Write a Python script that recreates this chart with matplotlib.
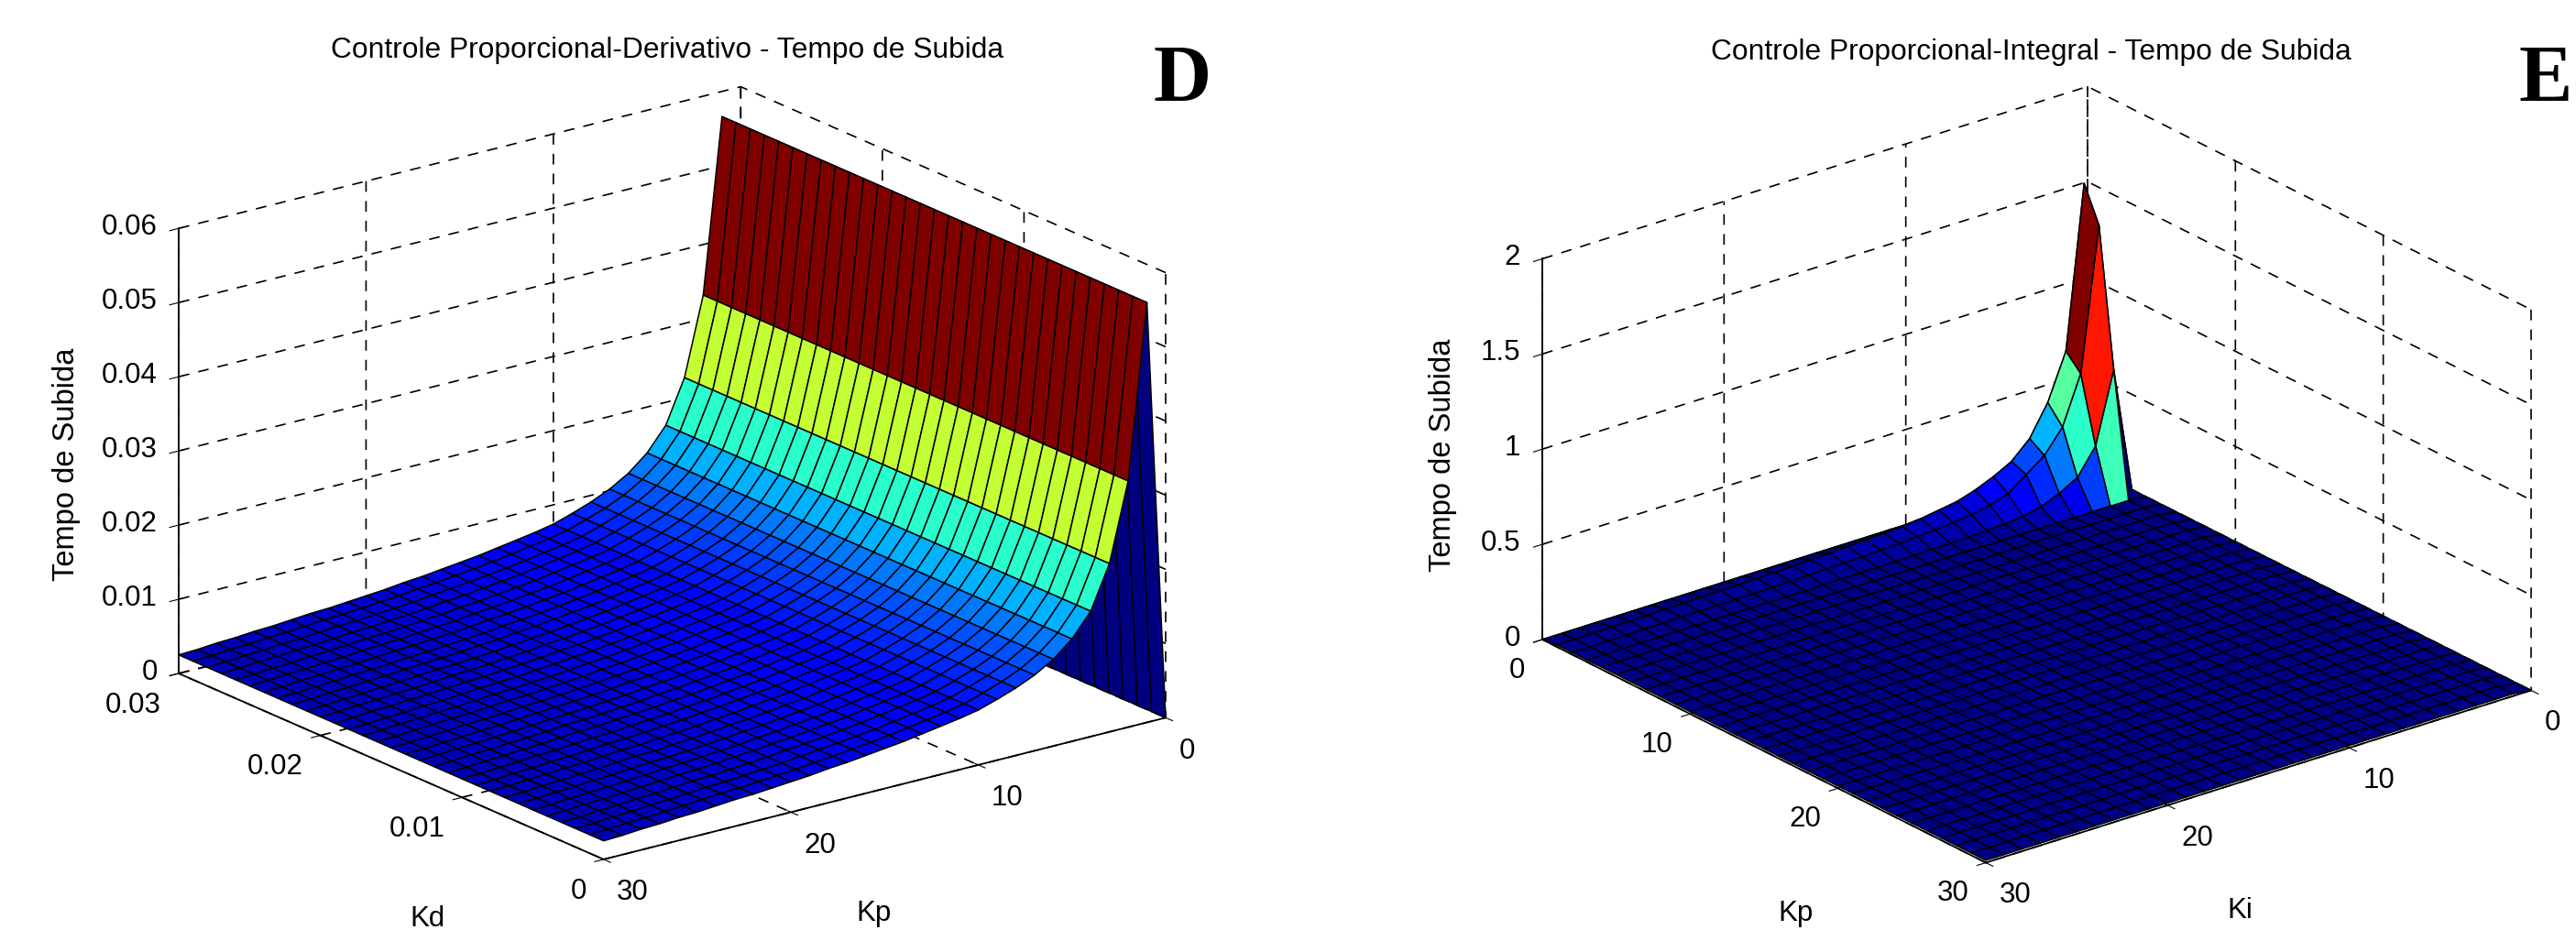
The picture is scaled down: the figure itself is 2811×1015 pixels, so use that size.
#!/usr/bin/python

import matplotlib

matplotlib.use('Agg')
import matplotlib.pyplot as plt
import numpy as np
from mpl_toolkits.mplot3d import proj3d

W, H = 2811, 1015

kp_grid = list(range(31))
ki_grid = list(range(31))
kd_grid = [i / 1000.0 for i in range(31)]

# rise time against Kp (it does not change along Kd)
pd_rise = [0, .0566, .0332, .0227, .0169, .0138, .0117, .0102, .0091, .0082, .0074,
           .0069, .0065, .0061, .0057, .0054, .0051, .0048, .0046, .0043, .0041,
           .0039, .0037, .0036, .0034, .0032, .0031, .0029, .0028, .0026, .0025]

# rise time against Ki for the rows of the PI surface near the peak
pi_kp0 = [0] * 31
pi_kp1 = [0, 1.56, .71, .47, .31, .22, .17, .13, .10, .085, .07, .06, .055, .05, .045, .04,
          .036, .033, .03, .028, .026, .024, .022, .02, .018, .017, .016, .014, .013, .012, .01]
pi_kp2 = [0, 1.38, .63, .38, .26, .19, .12, .09, .07, .06, .05, .045, .04, .035, .03, .028,
          .026, .024, .022, .02, .018, .017, .016, .015, .014, .013, .012, .011, .011, .01, .01]
pi_kp3 = [0, .66, .29, .154, .10, .06, .04, .03, .025, .022, .02, .018, .016, .015, .014, .013,
          .012, .012, .011, .011, .01, .01, .01, .01, .01, .01, .01, .01, .01, .01, .01]
pi_rest = [0] + [.012] * 30

pd_kd_ticks = [0, .01, .02, .03]
pd_kd_labels = ['0', '0.01', '0.02', '0.03']
pd_z_ticks = [0, .01, .02, .03, .04, .05, .06]
pd_z_labels = ['0', '0.01', '0.02', '0.03', '0.04', '0.05', '0.06']
pi_z_ticks = [0, .5, 1, 1.5, 2]
pi_z_labels = ['0', '0.5', '1', '1.5', '2']
k_ticks = [0, 10, 20, 30]
k_labels = ['0', '10', '20', '30']

plt.rcParams['grid.color'] = 'k'
plt.rcParams['grid.linestyle'] = (0, (7, 6))
plt.rcParams['grid.linewidth'] = 1.2
plt.rcParams['font.family'] = 'Liberation Sans'
plt.rcParams['font.size'] = 22.5
plt.rcParams['axes.linewidth'] = 1.3


def place_axes(ax, left_pt, right_pt, left_px, right_px):
    # scale and move the axes so two floor corners land on the given pixels
    m = ax.get_proj()
    ul, vl, _ = proj3d.proj_transform(*left_pt, m)
    ur, vr, _ = proj3d.proj_transform(*right_pt, m)
    x0, x1 = ax.viewLim.intervalx
    y0, y1 = ax.viewLim.intervaly
    side = (right_px[0] - left_px[0]) / (ur - ul) * (x1 - x0)
    left = left_px[0] - (ul - x0) / (x1 - x0) * side
    bottom = H - left_px[1] - (vl - y0) / (y1 - y0) * side
    ax.set_position([left / W, bottom / H, side / W, side / H])


def draw_surface(fig, xs, ys, rows, xlim, zlim, box, view, corners, pixels):
    ax = fig.add_subplot(projection='3d', computed_zorder=False)
    ax.set_proj_type('ortho')
    ax.set_box_aspect(box)
    ax.view_init(elev=view[0], azim=view[1])
    ax.patch.set_visible(False)
    x, y = np.meshgrid(xs, ys)
    z = np.array(rows, dtype=float)
    ax.plot_surface(x, y, z, rstride=1, cstride=1, shade=False, antialiased=True,
                    facecolors=plt.cm.jet(z / z.max()), edgecolor='k', linewidth=1.1)
    ax.set_xlim(*xlim)
    ax.set_ylim(0, 30)
    ax.set_zlim(*zlim)
    for axis in (ax.xaxis, ax.yaxis, ax.zaxis):
        axis.set_pane_color((1, 1, 1, 0))
        axis.pane.set_edgecolor((0, 0, 0, 0))
        axis.line.set_color('k')
        axis.line.set_linewidth(1.3)
    ax.tick_params(axis='x', pad=5.5)
    ax.tick_params(axis='y', pad=5.5)
    ax.tick_params(axis='z', pad=1.5)
    place_axes(ax, corners[0], corners[1], pixels[0], pixels[1])
    return ax


def align_labels(axis, ha, va):
    for label in axis.get_ticklabels():
        label.set_ha(ha)
        label.set_va(va)


fig = plt.figure(figsize=(W / 100.0, H / 100.0), dpi=100, facecolor='white')

# left panel, PD controller
ax1 = draw_surface(fig, kd_grid, kp_grid, [[v] * 31 for v in pd_rise], (0, .03), (0, .06),
                   (767, 770, 515), (19.4, 142.8),
                   ((.03, 30, 0), (0, 0, 0)), ((195, 735), (1272, 783)))
ax1.set_xticks(pd_kd_ticks, pd_kd_labels)
ax1.set_yticks(k_ticks, k_labels)
ax1.set_zticks(pd_z_ticks, pd_z_labels)
ax1.zaxis.set_ticks_position('upper')
align_labels(ax1.xaxis, 'right', 'top')
align_labels(ax1.yaxis, 'left', 'top')
align_labels(ax1.zaxis, 'right', 'center')

# right panel, PI controller
pi_rows = [pi_kp0, pi_kp1, pi_kp2, pi_kp3] + [pi_rest] * 27
ax2 = draw_surface(fig, ki_grid, kp_grid, pi_rows, (0, 30), (0, 2),
                   (759, 779, 453), (23.5, 51.6),
                   ((30, 0, 0), (0, 30, 0)), ((1683, 698), (2762, 754)))
ax2.set_xticks(k_ticks, k_labels)
ax2.set_yticks(k_ticks, k_labels)
ax2.set_zticks(pi_z_ticks, pi_z_labels)
ax2.zaxis.set_ticks_position('lower')
align_labels(ax2.xaxis, 'left', 'top')
align_labels(ax2.yaxis, 'right', 'top')
align_labels(ax2.zaxis, 'right', 'center')

fig.text(728 / W, 1 - 55 / H, 'Controle Proporcional-Derivativo - Tempo de Subida',
         ha='center', va='center', size=22.9)
fig.text(2216 / W, 1 - 57 / H, 'Controle Proporcional-Integral - Tempo de Subida',
         ha='center', va='center', size=22.9)
fig.text(1259 / W, 1 - 110 / H, 'D', family='Liberation Serif', weight='bold', size=63)
fig.text(2749 / W, 1 - 110 / H, 'E', family='Liberation Serif', weight='bold', size=63)

# axis names sit right at the bottom edge of the picture
fig.text(466 / W, 1 - 1011 / H, 'Kd', ha='center', va='baseline')
fig.text(954 / W, 1 - 1005 / H, 'Kp', ha='center', va='baseline')
fig.text(1959 / W, 1 - 1005 / H, 'Kp', ha='center', va='baseline')
fig.text(2444 / W, 1 - 1002 / H, 'Ki', ha='center', va='baseline')
fig.text(72 / W, 1 - 507 / H, 'Tempo de Subida', rotation=90, ha='center', va='center', size=23.5)
fig.text(1575 / W, 1 - 497 / H, 'Tempo de Subida', rotation=90, ha='center', va='center', size=23.5)

fig.savefig('out.png', dpi=100)
